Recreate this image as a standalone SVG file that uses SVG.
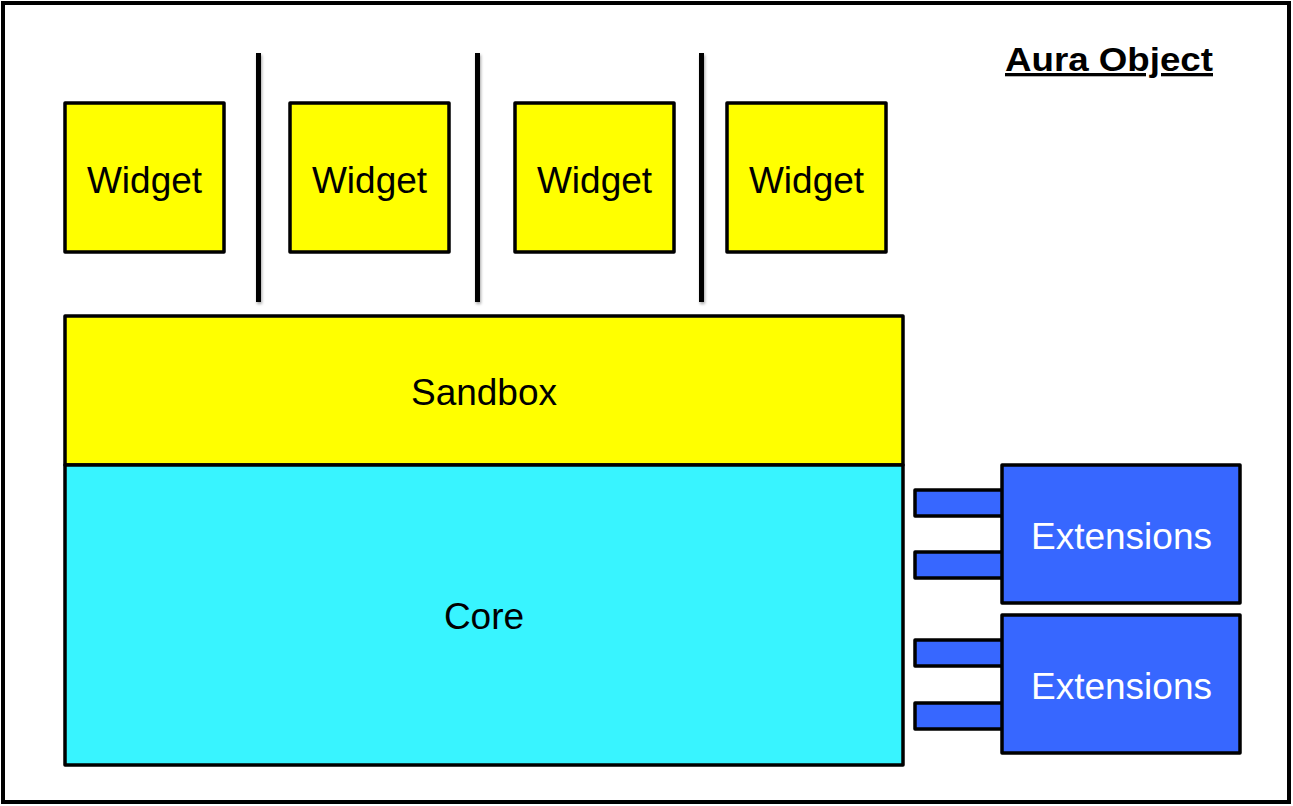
<svg xmlns="http://www.w3.org/2000/svg" width="1293" height="806" viewBox="0 0 1293 806">
  <style>
    .box { stroke: #000; stroke-width: 3.5; stroke-linejoin: round; }
    .yellow { fill: #FFFF00; }
    .cyan { fill: #38F4FF; }
    .blue { fill: #3767FF; }
    .lbl { font-family: "Liberation Sans", Arial, sans-serif; font-size: 37px; text-anchor: middle; fill: #000; }
    .wlbl { fill: #fff; }
    .sep { fill: #000; }
  </style>
  <defs>
    <filter id="sh" filterUnits="userSpaceOnUse" x="240" y="40" width="480" height="280">
      <feGaussianBlur in="SourceAlpha" stdDeviation="1.5"/>
      <feOffset dx="1" dy="2" result="b"/>
      <feComponentTransfer><feFuncA type="linear" slope="0.35"/></feComponentTransfer>
      <feMerge><feMergeNode/><feMergeNode in="SourceGraphic"/></feMerge>
    </filter>
  </defs>
  <rect width="1293" height="806" fill="#fff"/>
  <g id="aura-object">
    <rect x="3" y="3" width="1286" height="799" fill="#fff" stroke="#000" stroke-width="4"/>
    <text x="1005" y="71" font-family="'Liberation Sans', Arial, sans-serif" font-weight="bold" font-size="33" textLength="208" lengthAdjust="spacingAndGlyphs" text-decoration="underline">Aura Object</text>
  </g>
  <g id="separators" filter="url(#sh)">
    <rect class="sep" x="256" y="53" width="5" height="249"/>
    <rect class="sep" x="475" y="53" width="5" height="249"/>
    <rect class="sep" x="699" y="53" width="5" height="249"/>
  </g>
  <g id="widget1">
    <rect class="box yellow" x="65" y="103" width="159" height="149"/>
    <text class="lbl" x="144.5" y="193">Widget</text>
  </g>
  <g id="widget2">
    <rect class="box yellow" x="290" y="103" width="159" height="149"/>
    <text class="lbl" x="369.5" y="193">Widget</text>
  </g>
  <g id="widget3">
    <rect class="box yellow" x="515" y="103" width="159" height="149"/>
    <text class="lbl" x="594.5" y="193">Widget</text>
  </g>
  <g id="widget4">
    <rect class="box yellow" x="727" y="103" width="159" height="149"/>
    <text class="lbl" x="806.5" y="193">Widget</text>
  </g>
  <g id="sandbox">
    <rect class="box yellow" x="65" y="316" width="838" height="149"/>
    <text class="lbl" x="484" y="405">Sandbox</text>
  </g>
  <g id="core">
    <rect class="box cyan" x="65" y="465" width="838" height="300"/>
    <text class="lbl" x="484" y="629">Core</text>
  </g>
  <g id="connectors">
    <rect class="box blue" x="915" y="490" width="88" height="26"/>
    <rect class="box blue" x="915" y="552" width="88" height="26"/>
    <rect class="box blue" x="915" y="640" width="88" height="26"/>
    <rect class="box blue" x="915" y="703" width="88" height="26"/>
  </g>
  <g id="extensions1">
    <rect class="box blue" x="1002" y="465" width="238" height="138"/>
    <text class="lbl wlbl" x="1121.5" y="549">Extensions</text>
  </g>
  <g id="extensions2">
    <rect class="box blue" x="1002" y="615" width="238" height="138"/>
    <text class="lbl wlbl" x="1121.5" y="699">Extensions</text>
  </g>
</svg>
